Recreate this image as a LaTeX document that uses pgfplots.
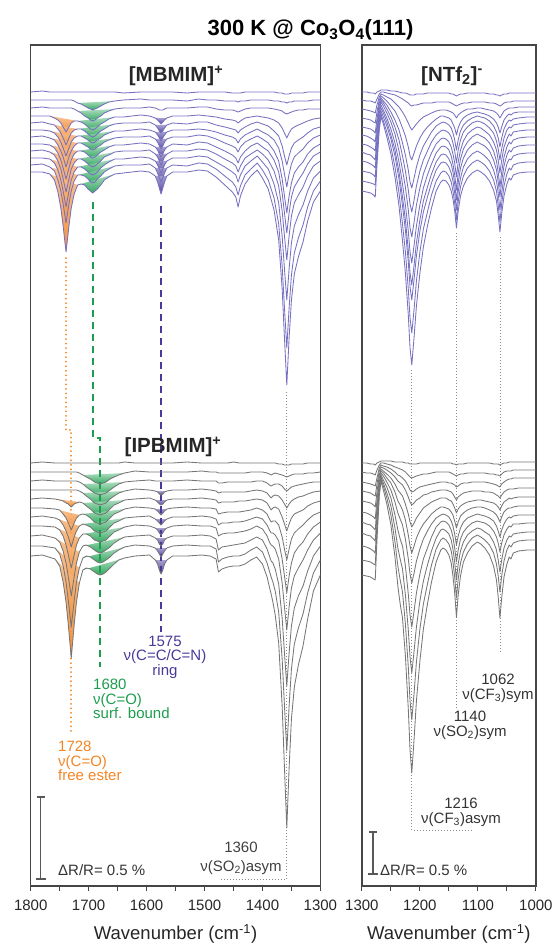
\documentclass[border=0pt]{standalone}
\usepackage{fontspec}
\setmainfont{Liberation Sans}
\usepackage{pgfplots}
\usepackage{pgfplotstable}
\pgfplotsset{compat=1.18}
\definecolor{trP}{RGB}{118,112,192}
\definecolor{trG}{RGB}{118,118,118}
\definecolor{cOr}{RGB}{242,133,37}
\definecolor{cGr}{RGB}{28,158,78}
\definecolor{cPu}{RGB}{72,58,155}
\definecolor{frm}{RGB}{70,70,70}

\pgfplotstableread{
w p1 p2 p3 p4 p5 p6 p7 p8 p9 p10 p11 p12
1800 92 100 108 116 123 130 137 144 151 158 165 172
1780 91 100 107 116 122 130 136 144 150 158 164 172
1767 92 100 108 116 124 131 138 145 152 159 167 174
1759 92 100 108 118 125 133 140 148 155 163 171 180
1753 92 100 108 120 129 137 145 153 161 170 180 192
1748 92 100 108 123 133 142 151 160 169 180 191 208
1744 92 100 108 127 138 148 157 168 179 191 204 226
1739 92 100 108 132 145 156 167 179 192 207 223 252
1734 92 100 108 127 138 148 157 168 179 191 204 226
1730 92 100 108 123 133 142 151 160 169 180 191 208
1725 92 101 109 121 130 138 146 154 163 172 181 194
1719 92 103 111 121 129 136 143 151 159 167 175 185
1713 92 104 113 122 129 136 143 151 159 167 175 184
1707 92 106 116 124 131 138 145 152 161 169 176 185
1701 92 108 118 127 134 140 147 155 164 172 179 189
1697 92 109 120 129 136 142 149 157 166 174 182 191
1693 92 110 121 130 137 143 150 158 167 175 183 193
1689 92 109 120 129 136 142 149 157 166 174 182 191
1685 92 108 118 127 134 140 147 155 164 172 179 189
1679 92 106 116 124 131 138 145 152 161 168 176 185
1673 92 104 113 122 129 135 142 150 157 165 172 180
1665 92 102 111 119 126 133 140 147 155 162 169 177
1655 92 101 109 117 124 131 138 145 152 159 166 174
1640 93 100 108 117 123 131 137 145 151 159 165 173
1610 92 99 108 115 123 129 137 143 151 157 165 171
1595 92 100 107 116 122 130 136 144 150 158 164 172
1585 92 100 108 118 125 132 139 147 154 161 168 176
1581 92 100 109 120 128 135 142 150 157 165 173 182
1578 92 100 110 122 131 138 146 154 161 169 178 188
1575 92 100 110 124 133 141 149 157 165 173 182 194
1572 92 100 110 122 131 138 146 154 161 169 178 188
1569 92 100 109 120 128 135 142 150 157 165 173 182
1565 92 100 108 118 125 132 139 147 154 161 168 176
1555 92 100 108 116 123 130 137 144 151 158 165 172
1530 93 101 108 116 124 130 137 145 151 158 166 172
1510 92 99 107 115 122 129 135 142 149 156 163 170
1495 92 100 107 116 122 130 136 143 150 157 164 171
1480 92 100 109 117 125 132 139 147 154 162 169 177
1465 92 101 110 119 127 135 143 151 159 167 176 185
1452 93 101 110 120 129 137 146 155 163 172 182 192
1446 93 101 111 121 130 139 148 158 166 175 187 197
1442 93 102 112 123 133 143 152 163 172 182 195 207
1438 93 101 111 121 130 139 147 157 166 175 186 196
1430 92 101 109 118 127 135 142 151 158 166 175 184
1420 92 100 108 117 124 132 139 146 154 161 169 176
1409 92 100 108 116 122 129 136 143 150 156 163 170
1400 92 100 108 117 124 132 139 147 154 162 170 178
1390 92 100 108 118 126 135 143 151 160 169 180 189
1380 92 101 109 120 131 140 151 160 171 184 198 210
1372 93 101 110 123 136 148 161 172 186 203 224 240
1366 93 102 111 128 146 161 179 193 211 236 266 289
1362 94 102 113 133 156 174 196 213 236 269 308 338
1358 94 103 114 138 165 187 213 233 260 300 348 385
1354 94 102 113 133 156 174 196 213 236 269 308 338
1350 93 102 112 129 148 164 183 197 216 243 275 300
1345 93 101 111 127 143 157 173 187 203 226 253 274
1338 93 101 110 125 140 153 167 180 195 215 238 257
1330 93 101 110 123 137 149 162 173 187 205 225 242
1322 92 101 109 121 133 143 154 164 176 191 207 221
1312 92 100 109 119 129 138 148 156 166 178 191 202
1300 92 100 109 118 127 135 144 152 161 171 181 191
}\PL

\pgfplotstableread{
w g1 g2 g3 g4 g5 g6 g7 g8 g9 g10 g11
1800 463 472 481 490 499 508 517 526 536 546 556
1780 462 472 480 490 498 508 516 526 535 546 555
1758 463 472 481 490 499 509 518 527 538 548 559
1750 463 472 481 490 500 510 520 530 542 554 566
1744 463 472 481 490 501 514 525 536 551 566 582
1739 463 472 481 490 503 518 531 545 563 582 602
1735 463 472 481 490 504 523 537 555 577 601 625
1730 463 472 481 490 507 530 547 568 596 627 658
1725 463 472 481 490 504 523 537 555 577 601 625
1721 463 472 481 490 503 518 531 545 563 582 602
1716 463 473 482 491 502 515 526 538 552 568 583
1710 463 475 484 493 503 514 524 534 546 558 570
1704 463 477 487 496 506 515 525 534 545 556 568
1697 463 479 490 499 509 518 527 536 547 557 569
1690 463 482 493 503 513 522 531 540 550 560 572
1685 463 483 494 504 514 523 532 541 552 562 574
1680 463 484 495 505 515 524 533 542 553 563 575
1675 463 483 494 504 514 523 532 541 552 562 574
1670 463 482 493 503 513 522 531 540 550 560 572
1663 463 479 490 499 509 518 527 536 547 557 568
1656 463 477 487 496 505 514 523 532 543 553 564
1648 463 475 484 493 503 512 521 530 540 550 560
1638 462 473 482 491 500 509 518 527 537 547 558
1620 463 471 481 489 499 507 517 525 536 545 556
1595 463 472 480 490 498 508 516 526 535 546 555
1585 463 472 481 491 500 509 519 528 538 548 560
1581 463 472 481 492 502 511 521 530 540 551 564
1578 463 472 481 494 504 513 523 533 544 554 570
1575 463 472 481 495 505 515 525 535 546 557 574
1572 463 472 481 494 504 513 523 533 544 554 570
1569 463 472 481 492 502 511 521 530 540 551 564
1565 463 472 481 491 500 509 519 528 538 548 560
1555 463 472 481 490 499 508 517 526 536 546 556
1530 462 472 480 490 499 507 517 525 536 545 556
1505 463 471 481 489 498 508 516 526 535 546 555
1490 463 472 481 490 499 508 517 526 536 546 556
1480 463 472 481 491 500 509 519 528 539 549 559
1476 463 473 483 493 503 514 525 536 550 562 572
1470 463 473 483 492 502 513 523 534 547 559 569
1460 463 473 482 492 502 512 523 533 546 557 567
1450 462 473 482 492 502 512 522 533 545 556 566
1440 463 473 482 492 501 512 522 532 544 556 566
1430 463 473 482 492 501 511 521 531 543 554 564
1420 463 472 482 491 500 510 519 529 540 550 560
1410 463 472 481 490 499 508 517 526 537 547 557
1400 463 472 481 491 500 510 519 529 540 552 564
1392 463 473 483 493 503 514 525 536 549 563 577
1388 463 474 485 496 507 519 530 542 556 571 587
1385 463 475 486 498 510 522 533 545 561 577 594
1382 463 474 485 496 508 521 533 546 563 582 602
1378 463 473 484 495 507 521 535 549 569 591 615
1372 464 474 484 496 509 525 541 559 584 612 643
1366 464 475 486 500 517 537 559 583 618 659 706
1362 465 476 489 504 524 549 576 607 653 706 768
1358 465 477 491 508 531 560 593 630 686 751 828
1354 465 476 489 504 524 549 576 607 653 706 768
1350 464 475 487 501 518 539 563 588 626 669 719
1345 464 474 486 499 514 533 553 576 608 644 687
1338 464 474 485 497 512 529 547 568 596 628 665
1330 464 474 484 496 510 525 542 560 586 614 646
1322 463 473 483 494 506 520 534 550 571 593 619
1312 463 473 482 492 503 515 527 540 556 573 591
1300 463 472 482 491 501 512 522 533 546 560 575
}\GL

\pgfplotstableread{
w p1 p2 p3 p4 p5 p6 p7 p8 p9 p10 p11 p12
1300 92 100 109 118 127 135 144 152 161 171 181 191
1292 92 101 110 119 128 136 145 154 162 172 182 192
1285 93 101 111 120 129 138 147 155 164 173 183 193
1280 93 102 112 122 131 140 149 158 166 175 184 195
1277 94 103 113 123 133 142 151 160 168 177 185 197
1274 92 99 105 112 119 125 131 138 144 151 157 165
1270 91 94 97 100 103 106 109 113 117 121 125 129
1267 90 92 94 96 98 100 102 105 108 111 114 117
1263 90 92 95 98 101 103 106 110 113 117 121 124
1257 90 93 97 101 105 109 113 118 122 126 132 137
1250 91 94 99 106 112 117 122 129 135 139 147 154
1243 91 95 103 111 120 127 134 143 150 156 167 177
1236 92 97 107 119 130 140 151 162 172 179 193 206
1230 93 99 112 128 143 156 170 184 197 206 224 241
1225 93 101 117 136 155 171 187 205 220 230 252 273
1220 94 103 123 147 170 190 210 231 250 262 289 315
1217 95 105 127 156 182 204 228 252 273 287 318 348
1214 95 106 130 160 188 212 237 263 285 300 333 365
1210 95 105 127 153 178 200 222 245 265 279 309 337
1206 94 105 124 146 167 186 205 226 243 256 281 306
1200 94 104 120 138 155 171 188 205 220 231 252 273
1194 94 103 117 132 146 160 174 188 201 212 229 247
1187 93 103 115 127 139 151 163 175 187 197 212 226
1180 93 103 113 123 132 142 153 164 174 183 195 208
1172 93 102 111 119 126 135 144 153 162 170 181 191
1164 93 102 110 116 123 131 139 147 155 163 173 182
1160 93 102 110 116 122 130 138 146 154 162 171 180
1155 93 102 110 117 123 131 139 147 155 163 172 181
1150 93 102 111 118 125 133 142 150 159 167 176 185
1146 94 103 112 120 128 137 147 156 164 173 182 191
1143 94 104 113 124 133 143 154 164 172 181 191 199
1140 95 105 115 128 140 151 163 175 184 193 203 211
1137 96 106 118 135 150 163 177 190 200 210 220 228
1134 95 105 115 128 140 150 162 173 183 192 202 211
1130 94 104 113 122 131 140 150 159 168 178 187 196
1125 94 103 111 118 125 132 141 149 158 167 176 186
1118 93 103 109 115 121 127 134 142 150 159 168 178
1110 93 102 109 113 118 123 130 137 145 154 163 173
1101 93 102 108 112 116 121 127 134 142 151 160 170
1095 93 102 108 113 117 122 128 136 144 153 162 172
1088 93 102 109 114 118 124 131 138 146 156 165 175
1080 94 103 110 116 121 128 135 143 151 161 171 181
1073 94 103 111 119 126 133 142 151 160 170 180 190
1068 95 104 113 123 132 141 150 161 170 181 191 201
1065 95 105 115 127 138 149 160 172 182 193 205 215
1062 96 106 118 133 147 160 173 187 197 210 222 232
1059 95 105 115 127 138 149 160 172 181 193 204 214
1055 94 103 111 120 129 138 147 157 166 176 186 196
1050 94 102 109 116 123 130 139 147 155 164 174 184
1046 93 102 108 114 120 127 134 142 150 159 168 178
1043 93 102 108 115 121 128 136 144 152 160 170 180
1039 93 101 108 113 119 125 132 140 148 156 165 175
1030 93 101 107 112 118 124 131 138 146 154 163 173
1015 93 101 107 112 117 123 130 137 145 153 162 172
1000 93 101 107 112 117 123 130 137 145 153 162 172
}\PR

\pgfplotstableread{
w g1 g2 g3 g4 g5 g6 g7 g8 g9 g10 g11
1300 463 472 482 491 501 512 522 533 546 560 575
1292 463 473 483 492 502 513 524 535 547 561 576
1285 464 473 484 493 503 515 525 536 549 562 577
1280 464 474 485 495 505 517 528 539 551 564 579
1277 465 475 486 496 507 519 530 541 553 565 580
1274 463 470 478 484 492 500 507 515 523 531 540
1270 462 465 468 471 475 478 482 485 488 492 496
1267 461 463 465 467 469 471 473 475 477 479 481
1263 461 463 466 468 471 473 476 480 483 486 490
1257 461 464 467 470 474 478 482 487 493 498 504
1250 461 465 469 473 478 483 490 498 506 515 525
1243 462 467 472 477 484 492 502 515 528 542 557
1238 462 468 475 481 490 501 513 530 548 566 586
1234 462 469 476 483 493 505 519 539 559 580 604
1230 462 470 478 485 496 510 525 546 569 592 618
1225 463 472 481 490 504 520 539 566 595 624 656
1220 463 475 486 497 514 535 559 594 630 667 709
1217 464 477 490 502 522 546 574 615 657 701 750
1214 464 478 492 505 527 553 583 627 673 720 773
1210 464 477 491 503 523 546 573 611 651 693 739
1206 464 476 489 500 518 538 561 593 627 662 701
1200 463 475 487 498 513 530 549 574 601 629 661
1194 463 474 486 495 508 524 539 559 581 604 629
1187 463 474 485 494 505 519 531 548 565 584 604
1180 463 473 484 492 502 514 524 537 551 565 582
1172 463 472 483 491 500 510 518 527 538 549 562
1164 463 472 482 490 498 507 515 522 530 540 550
1160 463 472 482 490 498 507 514 521 529 538 548
1155 463 472 482 490 498 508 515 522 531 540 550
1150 463 472 483 491 500 509 517 525 534 544 555
1146 463 473 483 492 501 512 521 530 540 551 563
1143 464 474 484 494 504 515 526 537 549 562 576
1140 464 475 485 497 508 521 534 548 562 577 593
1137 465 476 487 500 513 528 545 562 580 598 617
1134 464 475 486 497 509 522 536 550 564 579 595
1130 464 474 484 495 506 516 528 539 551 563 576
1125 464 474 483 493 504 513 522 532 542 552 562
1118 463 473 483 492 502 510 518 527 535 544 553
1110 463 473 482 491 501 508 516 523 531 538 546
1101 463 473 482 491 500 507 514 521 528 535 542
1095 463 473 482 491 500 507 515 522 529 537 544
1088 463 473 482 492 501 508 516 523 532 540 548
1080 463 474 483 492 502 510 518 526 535 545 555
1073 464 474 484 493 503 512 521 531 542 553 566
1068 464 475 485 495 505 515 526 537 550 564 580
1065 464 475 486 496 507 518 531 543 560 576 597
1062 465 476 487 498 510 522 537 552 572 592 618
1059 464 474 484 495 506 517 530 543 560 576 598
1055 463 472 482 492 502 512 524 535 548 561 577
1050 463 471 480 490 500 509 519 529 540 550 564
1046 462 471 479 489 498 508 517 526 536 545 557
1043 462 471 479 489 499 508 518 527 537 547 559
1039 462 470 478 489 498 507 516 524 534 543 553
1030 462 470 478 488 497 506 515 524 533 541 551
1015 462 470 478 488 497 506 515 523 532 540 550
1000 462 470 478 488 497 506 515 523 532 540 550
}\GR

\pgfplotsset{
  spec/.style={
    scale only axis, height=841pt,
    ymin=45, ymax=886, y dir=reverse, x dir=reverse,
    enlargelimits=false, ytick=\empty, xtick pos=left,
    tick align=outside, major tick length=5pt, minor tick length=5pt,
    axis line style={frm, line width=1.4pt},
    every tick/.style={frm, line width=1.1pt},
    scaled x ticks=false,
    /pgf/number format/1000 sep={},
    /pgf/number format/assume math mode=true,
    xticklabel style={font=\fontsize{15}{15}\selectfont, text=black!85, inner sep=0pt, anchor=north, yshift=-9pt},
  },
  trp/.style={trP, line width=0.85pt, mark=none, line join=round},
  trg/.style={trG, line width=0.85pt, mark=none, line join=round},
  ofill/.style={draw=none, top color=cOr!55, bottom color=cOr, fill opacity=0.9},
  gfill/.style={draw=none, top color=cGr!40, bottom color=cGr, fill opacity=0.9},
  pfill/.style={draw=none, top color=cPu!50, bottom color=cPu, fill opacity=0.95},
}
\tikzset{dotg/.style={black!45, line width=0.8pt, dash pattern=on 1pt off 2pt}}

\begin{document}
\begin{tikzpicture}
\useasboundingbox (0,0) rectangle (554pt,944pt);

% ---------------- left panel ----------------
\begin{axis}[spec, at={(30.7pt,58pt)}, anchor=south west, width=289.7pt,
  xmin=1300, xmax=1800, xtick={1800,1700,1600,1500,1400,1300},
  minor xtick={1750,1650,1550,1450,1350}]
\draw[dotg] (axis cs:1358,392) -- (axis cs:1358,879) -- (axis cs:1475,879);
\draw[cOr, line width=2pt, dash pattern=on 0.01pt off 4.5pt, line cap=round]
  (axis cs:1739,258) -- (axis cs:1739,430) -- (axis cs:1730,430) -- (axis cs:1730,735);
% fills MBMIM
\pgfplotsinvokeforeach{4,...,12}{\addplot[ofill, restrict x to domain=1719:1767] table[x=w,y=p#1]{\PL} -- cycle;}
\pgfplotsinvokeforeach{2,...,12}{\addplot[gfill, restrict x to domain=1655:1719] table[x=w,y=p#1]{\PL} -- cycle;}
\pgfplotsinvokeforeach{4,...,12}{\addplot[pfill, restrict x to domain=1565:1585] table[x=w,y=p#1]{\PL} -- cycle;}
% fills IPBMIM
\pgfplotsinvokeforeach{5,...,11}{\addplot[ofill, restrict x to domain=1716:1758] table[x=w,y=g#1]{\GL} -- cycle;}
\pgfplotsinvokeforeach{2,...,11}{\addplot[gfill, restrict x to domain=1638:1710] table[x=w,y=g#1]{\GL} -- cycle;}
\pgfplotsinvokeforeach{4,...,11}{\addplot[pfill, restrict x to domain=1565:1585] table[x=w,y=g#1]{\GL} -- cycle;}
\draw[cGr, line width=2pt, dash pattern=on 7pt off 5pt]
  (axis cs:1693,202) -- (axis cs:1693,438) -- (axis cs:1680,438) -- (axis cs:1680,667);
\draw[cPu, line width=2.2pt, dash pattern=on 7pt off 5pt]
  (axis cs:1575,206) -- (axis cs:1575,632);
% traces
\pgfplotsinvokeforeach{1,...,12}{\addplot[trp] table[x=w,y=p#1]{\PL};}
\pgfplotsinvokeforeach{1,...,11}{\addplot[trg] table[x=w,y=g#1]{\GL};}
\end{axis}

% ---------------- right panel ----------------
\begin{axis}[spec, at={(361.9pt,58pt)}, anchor=south west, width=174pt,
  xmin=1000, xmax=1300, xtick={1300,1200,1100,1000},
  minor xtick={1250,1150,1050}]
\draw[dotg] (axis cs:1214,370) -- (axis cs:1214,830) -- (axis cs:1110,830);
\draw[dotg] (axis cs:1137,233) -- (axis cs:1137,708);
\draw[dotg] (axis cs:1062,237) -- (axis cs:1062,652);
\pgfplotsinvokeforeach{1,...,12}{\addplot[trp] table[x=w,y=p#1]{\PR};}
\pgfplotsinvokeforeach{1,...,11}{\addplot[trg] table[x=w,y=g#1]{\GR};}
\end{axis}

% ---------------- texts ----------------
\node[font=\fontsize{22}{25}\selectfont\bfseries] at (310.6pt,914pt) {300 K @ Co\textsubscript{3}O\textsubscript{4}(111)};
\node[font=\fontsize{20.5}{23}\selectfont\bfseries, text=black!85] at (176pt,868pt) {[MBMIM]\textsuperscript{+}};
\node[font=\fontsize{20.5}{23}\selectfont\bfseries, text=black!85] at (452pt,868pt) {[NTf\textsubscript{2}]\textsuperscript{-}};
\node[font=\fontsize{20.5}{23}\selectfont\bfseries, text=black!85] at (173pt,497pt) {[IPBMIM]\textsuperscript{+}};

\node[text=cPu, align=center, inner sep=0pt, font=\fontsize{15}{14.5}\selectfont] at (165pt,287pt) {1575\\ν(C=C/C=N)\\ring};
\node[text=cGr, align=left, anchor=west, inner sep=0pt, font=\fontsize{15}{14.5}\selectfont] at (93pt,245pt) {1680\\ν(C=O)\\surf. bound};
\node[text=cOr, align=left, anchor=west, inner sep=0pt, font=\fontsize{15}{14.5}\selectfont] at (58pt,183pt) {1728\\ν(C=O)\\free ester};
\node[text=black!75, align=center, inner sep=0pt, font=\fontsize{15}{19}\selectfont] at (241pt,86pt) {1360\\ν(SO\textsubscript{2})asym};

\node[text=black!80, align=center, inner sep=0pt, font=\fontsize{15}{15}\selectfont] at (498pt,256pt) {1062\\ν(CF\textsubscript{3})sym};
\node[text=black!80, align=center, inner sep=0pt, font=\fontsize{15}{15}\selectfont] at (470pt,219pt) {1140\\ν(SO\textsubscript{2})sym};
\node[text=black!80, align=center, inner sep=0pt, font=\fontsize{15}{15}\selectfont] at (461pt,132pt) {1216\\ν(CF\textsubscript{3})asym};

% scale bars
\draw[black!65, line width=1.4pt] (40.6pt,147pt) -- (40.6pt,65pt);
\draw[black!65, line width=1.4pt] (36.6pt,147pt) -- (44.6pt,147pt);
\draw[black!65, line width=2pt] (35.5pt,65pt) -- (45.8pt,65pt);
\draw[black!65, line width=1.4pt] (373pt,112pt) -- (373pt,70pt);
\draw[black!65, line width=1.4pt] (369pt,112pt) -- (377pt,112pt);
\draw[black!65, line width=2pt] (368pt,70pt) -- (378pt,70pt);
\node[anchor=west, inner sep=0pt, text=black!80, font=\fontsize{15}{15}\selectfont] at (58pt,74pt) {ΔR/R= 0.5 \%};
\node[anchor=west, inner sep=0pt, text=black!80, font=\fontsize{15}{15}\selectfont] at (380pt,74pt) {ΔR/R= 0.5 \%};

% axis labels
\node[font=\fontsize{18.5}{21}\selectfont, text=black!85] at (175.6pt,10pt) {Wavenumber (cm\textsuperscript{-1})};
\node[font=\fontsize{18.5}{21}\selectfont, text=black!85] at (448.9pt,10pt) {Wavenumber (cm\textsuperscript{-1})};
\end{tikzpicture}
\end{document}
